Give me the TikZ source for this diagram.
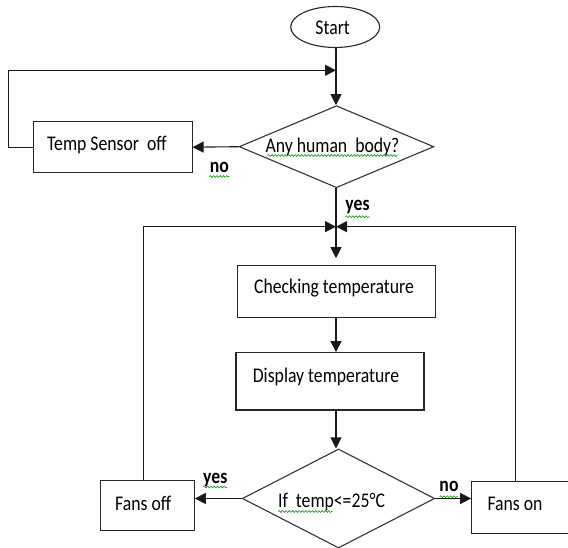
\documentclass[tikz,border=0pt]{standalone}
\usepackage{fontspec}
\setmainfont{Carlito}
\usetikzlibrary{shapes.geometric,arrows.meta,decorations.pathmorphing,calc}
\tikzset{
  box/.style={draw=black!85, line width=1.1pt, rectangle, inner sep=0pt},
  decision/.style={draw=black!80, line width=1.1pt, diamond, inner sep=0pt},
  terminal/.style={draw=black!85, line width=1.1pt, ellipse, inner sep=0pt},
  txt/.style={anchor=base, inner sep=0pt, font=\fontsize{17.7}{20}\selectfont},
  lbl/.style={anchor=base, inner sep=0pt, font=\fontsize{17.7}{20}\selectfont\bfseries},
  flow/.style={line width=1.1pt, draw=black!90},
  arr/.style={flow, -{Triangle[length=11pt,width=11pt]}},
  spell/.style={draw=green!60!black, line width=0.6pt, decorate,
    decoration={snake, segment length=3.3pt, amplitude=0.9pt}},
}
% text is set slightly taller than wide
\newcommand\tallx[1]{\scalebox{1}[1.18]{#1}}
\begin{document}
\begin{tikzpicture}[x=1pt,y=-1pt]
\useasboundingbox (0,0) rectangle (568,548);
\clip (0,0) rectangle (568,548);

% shapes
\node[terminal, minimum width=89pt, minimum height=41pt] (start) at (335.2,27) {};
\node[decision, minimum width=194.7pt, minimum height=82pt] (body) at (336.5,146.7) {};
\node[box, minimum width=158.7pt, minimum height=51pt] (sensor) at (112.7,147.2) {};
\node[box, minimum width=198pt, minimum height=52pt] (check) at (336.3,291.7) {};
\node[box, minimum width=188pt, minimum height=57.3pt] (disp) at (330,381.3) {};
\node[decision, minimum width=192.4pt, minimum height=99pt] (temp) at (338.5,498.5) {};
\node[box, minimum width=93.6pt, minimum height=49.6pt] (fansoff) at (147.5,505.5) {};
\node[box, minimum width=100.3pt, minimum height=51.6pt] (fanson) at (521.85,507.5) {};

% join points on the main axis
\coordinate (j1) at (336,70.3);
\coordinate (j2) at (336,226.7);

% texts
\node[txt] (tstart) at (332.7,34.3) {\tallx{Start}};
\node[txt] (tbody) at (332.5,153) {\tallx{Any human\ \ body?}};
\node[txt] (tsensor) at (107,150.7) {\tallx{Temp Sensor\ \ off}};
\node[txt] (tcheck) at (334,294) {\tallx{Checking temperature}};
\node[txt] (tdisp) at (326,382.3) {\tallx{Display temperature}};
\node[txt] (ttemp) at (331.5,507.7) {\tallx{If\ \ temp<=25°C}};
\node[txt] (tfansoff) at (143.2,510) {\tallx{Fans off}};
\node[txt] (tfanson) at (515,510) {\tallx{Fans on}};
\node[lbl] (no1) at (219.3,172.7) {\tallx{no}};
\node[lbl] (yes1) at (357.5,211) {\tallx{yes}};
\node[lbl] (yes2) at (215.3,483.3) {\tallx{yes}};
\node[lbl] (no2) at (449,491.7) {\tallx{no}};

% spelling marks under words
\draw[spell] (267.7,155.5) -- (397.3,155.5);
\draw[spell] (209.3,176.5) -- (229.3,176.5);
\draw[spell] (345.3,216.7) -- (369.7,216.7);
\draw[spell] (203.3,487) -- (227.3,487);
\draw[spell] (278.3,511.5) -- (332.3,511.5);
\draw[spell] (439.7,496.7) -- (458,496.7);

% connectors
\draw[arr] (start.south -| j1) -- (body.north -| j1);
\draw[arr] (sensor.west) -- ++(-24,0) |- (j1);
\draw[arr] (body.west) -- (sensor.east);
\draw[flow] (body.south -| j2) -- (j2);
\draw[arr, shorten >=7pt] (j2) -- (check.north -| j2);
\draw[arr] ([xshift=-3.8pt]fansoff.north) |- (j2);
\draw[arr] ([xshift=-6.5pt]fanson.north) |- (j2);
\draw[arr] (check.south -| j2) -- (disp.north -| j2);
\draw[arr] (disp.south -| j2) -- (temp.north -| j2);
\draw[arr] (temp.west) -- (temp.west -| fansoff.east);
\draw[arr] (temp.east) -- (temp.east -| fanson.west);
\end{tikzpicture}
\end{document}
